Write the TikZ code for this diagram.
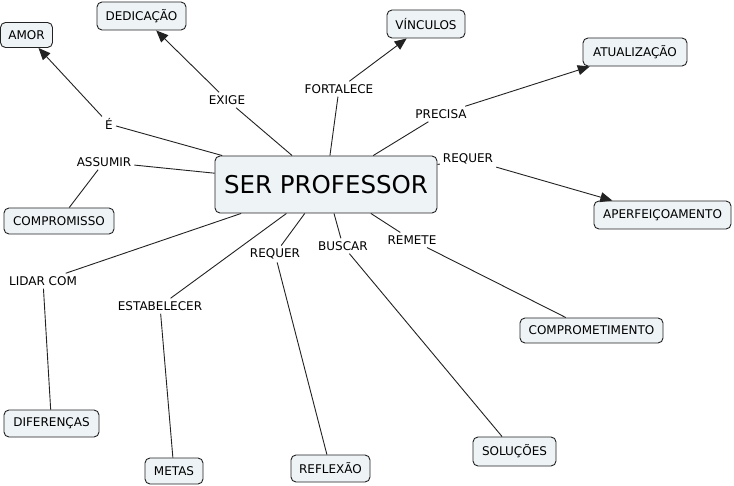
\documentclass[tikz,border=0pt]{standalone}
\usepackage{fontspec}
\setmainfont{DejaVu Sans}
\usetikzlibrary{arrows.meta}
\definecolor{boxfill}{HTML}{EEF3F6}
\definecolor{edge}{HTML}{222222}
\begin{document}
\begin{tikzpicture}[x=1pt,y=-1pt,
  concept/.style={draw=edge, line width=0.9pt, fill=boxfill, rounded corners=5pt,
    font=\fontsize{12}{14}\selectfont, inner sep=0pt},
  main/.style={concept, font=\fontsize{24.5}{28}\selectfont},
  lbl/.style={font=\fontsize{12}{14}\selectfont, inner sep=3pt, fill=white},
  link/.style={draw=edge, line width=0.9pt},
  arr/.style={link, -{Triangle[length=12pt,width=10pt]}}
]
\useasboundingbox (0,0) rectangle (734,486);
\fill[white] (0,0) rectangle (734,486);

% concepts
\node[main, minimum width=222pt, minimum height=57pt] (ctr) at (326,184.5) {SER PROFESSOR};
\node[concept, minimum width=52pt, minimum height=25pt] (amor) at (26.5,35) {AMOR};
\node[concept, minimum width=89pt, minimum height=28pt] (ded) at (141.5,16) {DEDICAÇÃO};
\node[concept, minimum width=78pt, minimum height=28pt] (vinc) at (426,24) {VÍNCULOS};
\node[concept, minimum width=104pt, minimum height=28pt] (atu) at (635,52) {ATUALIZAÇÃO};
\node[concept, minimum width=137pt, minimum height=28pt] (aper) at (662.5,215) {APERFEIÇOAMENTO};
\node[concept, minimum width=110pt, minimum height=26pt] (comp) at (59,221) {COMPROMISSO};
\node[concept, minimum width=95pt, minimum height=27pt] (dif) at (51.5,423.5) {DIFERENÇAS};
\node[concept, minimum width=58pt, minimum height=26pt] (metas) at (174,471) {METAS};
\node[concept, minimum width=79pt, minimum height=27pt] (refl) at (330.5,468.5) {REFLEXÃO};
\node[concept, minimum width=83pt, minimum height=29pt] (sol) at (514.5,451.5) {SOLUÇÕES};
\node[concept, minimum width=143pt, minimum height=25pt] (cmt) at (591.5,330.5) {COMPROMETIMENTO};

% linking phrases
\node[lbl] (e) at (109,124) {É};
\node[lbl] (exige) at (227,100) {EXIGE};
\node[lbl] (fort) at (339,89) {FORTALECE};
\node[lbl] (prec) at (441,114) {PRECISA};
\node[lbl] (req1) at (468,159) {REQUER};
\node[lbl] (ass) at (104,162) {ASSUMIR};
\node[lbl] (lidar) at (43,281) {LIDAR COM};
\node[lbl] (estab) at (160,306) {ESTABELECER};
\node[lbl] (req2) at (275,254) {REQUER};
\node[lbl] (busc) at (343,246) {BUSCAR};
\node[lbl] (rem) at (412,240) {REMETE};

% connectors
\draw[link] (ctr) -- (e);      \draw[arr] (e) -- (amor);
\draw[link] (ctr) -- (exige);  \draw[arr] (exige) -- (ded);
\draw[link] (ctr) -- (fort);   \draw[arr] (fort) -- (vinc);
\draw[link] (ctr) -- (prec);   \draw[arr] (prec) -- (atu);
\draw[link] (ctr) -- (req1);   \draw[arr] (req1) -- (aper);
\draw[link] (ctr) -- (ass);    \draw[link] (ass) -- (comp);
\draw[link] (ctr) -- (lidar);  \draw[link] (lidar) -- (dif);
\draw[link] (ctr) -- (estab);  \draw[link] (estab) -- (metas);
\draw[link] (ctr) -- (req2);   \draw[link] (req2) -- (refl);
\draw[link] (ctr) -- (busc);   \draw[link] (busc) -- (sol);
\draw[link] (ctr) -- (rem);    \draw[link] (rem) -- (cmt);
\end{tikzpicture}
\end{document}
